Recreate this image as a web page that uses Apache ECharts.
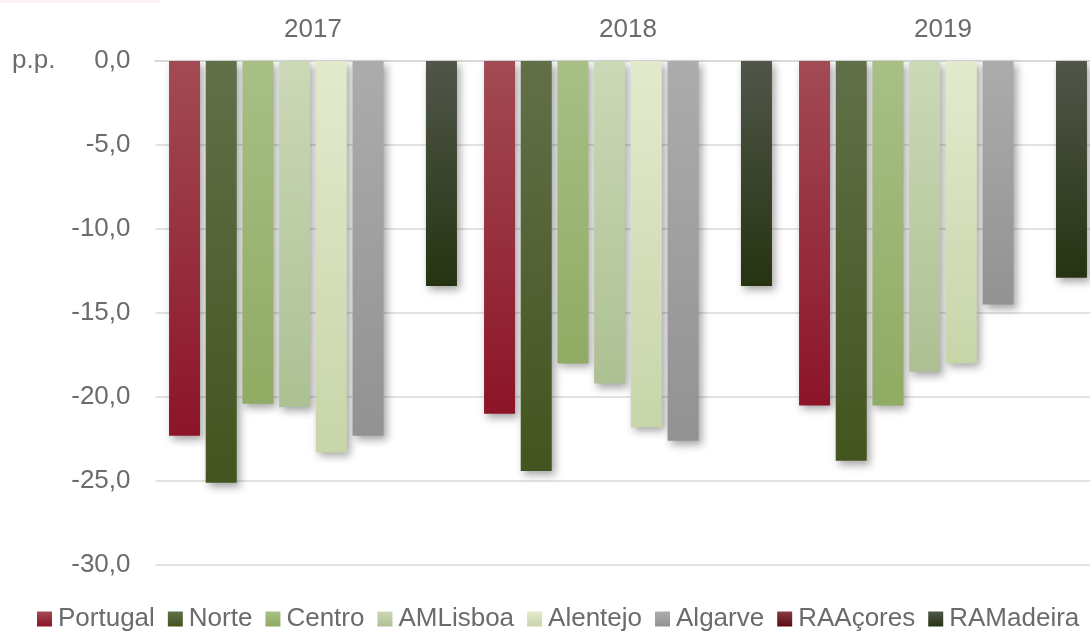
<!DOCTYPE html>
<html>
<head>
<meta charset="utf-8">
<script src="https://cdn.jsdelivr.net/npm/echarts@6/dist/echarts.min.js"></script>
<style>
html,body{margin:0;padding:0;background:#fff;overflow:hidden;width:1090px;height:637px;}
#chart{width:1110px;height:637px;}
</style>
</head>
<body>
<div id="chart"></div>
<script>
const years = ['2017', '2018', '2019'];
const seriesNames = ['Portugal', 'Norte', 'Centro', 'AMLisboa', 'Alentejo', 'Algarve', 'RAAçores', 'RAMadeira'];
const portugal  = [-22.3, -21.0, -20.5];
const norte     = [-25.1, -24.4, -23.8];
const centro    = [-20.4, -18.0, -20.5];
const amLisboa  = [-20.6, -19.2, -18.5];
const alentejo  = [-23.3, -21.8, -18.0];
const algarve   = [-22.3, -22.6, -14.5];
const raAcores  = [null, null, null];
const raMadeira = [-13.4, -13.4, -12.9];
const yTicks = [0, -5, -10, -15, -20, -25, -30];

const values = [portugal, norte, centro, amLisboa, alentejo, algarve, raAcores, raMadeira];
const colorStops = [
  ['#a24b55', '#8c1428'],
  ['#617049', '#43541f'],
  ['#a8bf86', '#90ab63'],
  ['#cbd9b6', '#adc093'],
  ['#e2eacd', '#c8d5a9'],
  ['#acacac', '#929292'],
  ['#8a3a44', '#5c0a16'],
  ['#50564a', '#263311']
];

const textColor = '#6b6b6b';
const fontFamily = '"Liberation Sans", Arial, sans-serif';
const fs = 26;

const series = seriesNames.map((name, i) => ({
  name: name,
  type: 'bar',
  data: values[i],
  barWidth: 31,
  barGap: '18.4%',
  itemStyle: {
    color: new echarts.graphic.LinearGradient(0, 0, 0, 1, [
      { offset: 0, color: colorStops[i][0] },
      { offset: 1, color: colorStops[i][1] }
    ]),
    shadowBlur: 8,
    shadowOffsetX: 3,
    shadowOffsetY: 4,
    shadowColor: 'rgba(0,0,0,0.35)'
  }
}));

const chart = echarts.init(document.getElementById('chart'), null, { renderer: 'canvas' });
chart.setOption({
  backgroundColor: '#ffffff',
  animation: false,
  textStyle: { fontFamily: fontFamily },
  graphic: [
    { type: 'rect', left: 0, top: 0, shape: { width: 160, height: 3 }, style: { fill: '#fcf4f4' } },
    { type: 'text', left: 12, top: 48, style: { text: 'p.p.', fill: textColor, font: fs + 'px ' + fontFamily } }
  ],
  grid: { left: 155.5, top: 61, width: 945, height: 504, containLabel: false },
  legend: {
    top: 606,
    left: 37,
    padding: 0,
    icon: 'rect',
    itemWidth: 15,
    itemHeight: 15,
    itemGap: 13,
    textStyle: { color: textColor, fontSize: fs, fontFamily: fontFamily, padding: [0, 0, 0, 1] },
    data: seriesNames
  },
  xAxis: {
    type: 'category',
    position: 'top',
    data: years,
    axisLine: { show: true, lineStyle: { color: '#d9d9d9', width: 2 } },
    axisTick: { show: false },
    axisLabel: { color: textColor, fontSize: fs, margin: 18, fontFamily: fontFamily }
  },
  yAxis: {
    type: 'value',
    min: yTicks[yTicks.length - 1],
    max: yTicks[0],
    interval: 5,
    axisLine: { show: false },
    axisTick: { show: false },
    splitLine: { show: true, lineStyle: { color: '#d9d9d9', width: 1.5 } },
    axisLabel: {
      color: textColor,
      fontSize: fs,
      margin: 25,
      fontFamily: fontFamily,
      formatter: v => v.toFixed(1).replace('.', ',')
    }
  },
  series: series
});
</script>
</body>
</html>
